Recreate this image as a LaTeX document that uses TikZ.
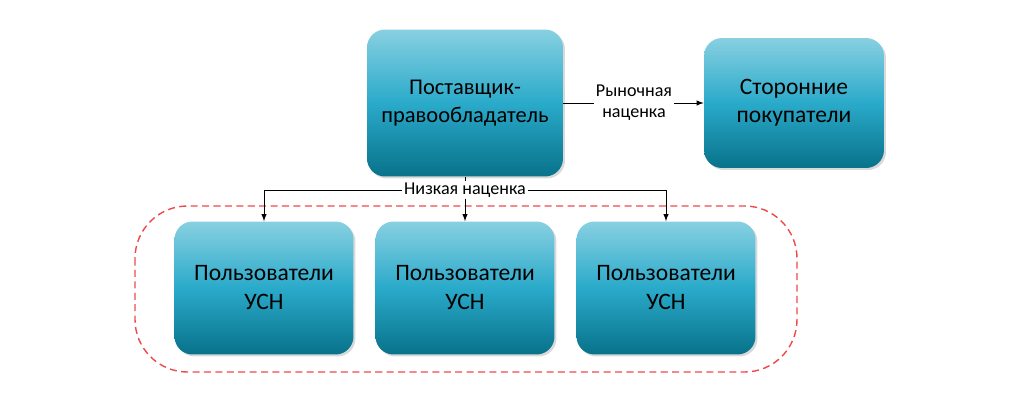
\documentclass[tikz,border=0pt]{standalone}
\usepackage{fontspec}
\setmainfont{Carlito}
\usetikzlibrary{shadows}

\definecolor{boxtop}{HTML}{88D0E1}
\definecolor{boxmid}{HTML}{2AAACA}
\definecolor{boxbot}{HTML}{08728A}
\definecolor{groupred}{HTML}{F0484A}

\begin{document}
\begin{tikzpicture}[x=0.02cm, y=-0.02cm,
        box/.style={rounded corners=0.36cm, top color=boxtop, bottom color=boxbot,
            middle color=boxmid, align=center, inner sep=0pt,
            drop shadow={shadow xshift=0.04cm, shadow yshift=-0.04cm, opacity=0.3}},
        tag/.style={fill=white, inner sep=1pt, font=\fontsize{10.3}{12}\selectfont, align=center}]
    \useasboundingbox (0, 0) rectangle (1024, 403);
    % group of the USN users
    \draw[groupred, thick, dash pattern=on 4pt off 2.5pt, rounded corners=1.05cm]
        (135, 206) rectangle (797, 372);

    \node[box, minimum width=3.92cm, minimum height=2.94cm,
        font=\fontsize{12.8}{16}\selectfont] (owner) at (465, 103) {Поставщик-\\правообладатель};
    \node[box, minimum width=3.6cm, minimum height=2.6cm,
        font=\fontsize{13.4}{16}\selectfont] (buyers) at (794, 103) {Сторонние\\покупатели};
    \node[box, minimum width=3.58cm, minimum height=2.66cm,
        font=\fontsize{13.4}{16.5}\selectfont] (user1) at (264, 288) {Пользователи\\УСН};
    \node[box, minimum width=3.58cm, minimum height=2.66cm,
        font=\fontsize{13.4}{16.5}\selectfont] (user2) at (465, 288) {Пользователи\\УСН};
    \node[box, minimum width=3.58cm, minimum height=2.66cm,
        font=\fontsize{13.4}{16.5}\selectfont] (user3) at (666, 288) {Пользователи\\УСН};

    \coordinate (split) at (465, 190);
    \draw (owner.south) -- (split);
    \draw[-latex] (split) -| (user1.north);
    \draw[-latex] (split) -- (user2.north);
    \draw[-latex] (split) -| (user3.north);
    \node[tag] (low) at (split) {Низкая наценка};

    \draw[-latex] (owner.east) -- (buyers.west);
    \node[tag] (market) at (634, 103) {Рыночная\\наценка};
\end{tikzpicture}
\end{document}
